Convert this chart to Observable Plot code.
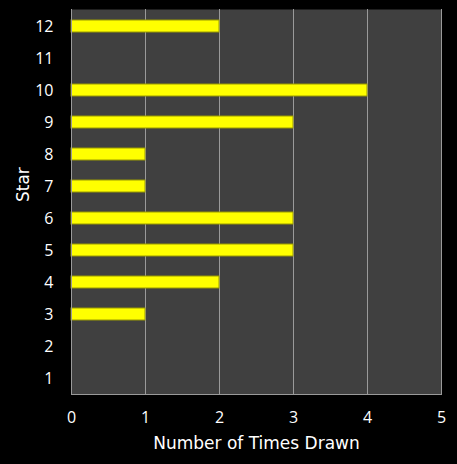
<!DOCTYPE html>
<html>
<head>
<meta charset="utf-8">
<script src="https://cdn.jsdelivr.net/npm/d3@7"></script>
<script src="https://cdn.jsdelivr.net/npm/@observablehq/plot@0.6"></script>
<style>
  html, body { margin: 0; padding: 0; background: #000; }
  #chart { width: 457px; height: 464px; }
</style>
</head>
<body>
<div id="chart"></div>
<script>
const stars = [1, 2, 3, 4, 5, 6, 7, 8, 9, 10, 11, 12];
const timesDrawn = [0, 0, 1, 2, 3, 3, 1, 1, 3, 4, 0, 2];
const xTicks = [0, 1, 2, 3, 4, 5];

const data = stars.map((s, i) => ({star: s, count: timesDrawn[i]}));

const chart = Plot.plot({
  width: 457,
  height: 464,
  marginLeft: 71,
  marginRight: 16,
  marginTop: 9,
  marginBottom: 70,
  style: {background: "#000", color: "#fff", fontFamily: "'Open Sans', sans-serif", fontSize: "16px"},
  x: {domain: [0, 5], ticks: xTicks, label: null},
  y: {domain: stars.slice().reverse(), paddingInner: 0.64, paddingOuter: 0.32, label: null},
  marks: [
    Plot.frame({fill: "#404040", stroke: null}),
    Plot.gridX(xTicks.slice(1), {stroke: "#9a9a9a", strokeOpacity: 1, strokeWidth: 1}),
    Plot.barX(data, {x: "count", y: "star", fill: "#ffff00", stroke: "#9a9a00", strokeWidth: 1}),
    Plot.axisX({ticks: xTicks, tickFormat: "d", tickSize: 0, tickPadding: 17, fill: "#fff", fontSize: 16, fontFamily: "'Open Sans', sans-serif", label: null}),
    Plot.axisY({tickSize: 0, tickPadding: 18, fill: "#fff", fontSize: 16, fontFamily: "'Open Sans', sans-serif", label: null}),
    Plot.ruleX([0], {stroke: "#9a9a9a"}),
    Plot.frame({anchor: "bottom", stroke: "#9a9a9a"}),
    Plot.text(["Number of Times Drawn"], {frameAnchor: "bottom", dy: 54, fill: "#fff", fontSize: 17, fontFamily: "'DejaVu Sans', sans-serif"}),
    Plot.text(["Star"], {frameAnchor: "left", dx: -48, rotate: -90, fill: "#fff", fontSize: 17, fontFamily: "'DejaVu Sans', sans-serif"})
  ]
});
document.getElementById("chart").appendChild(chart);
</script>
</body>
</html>
